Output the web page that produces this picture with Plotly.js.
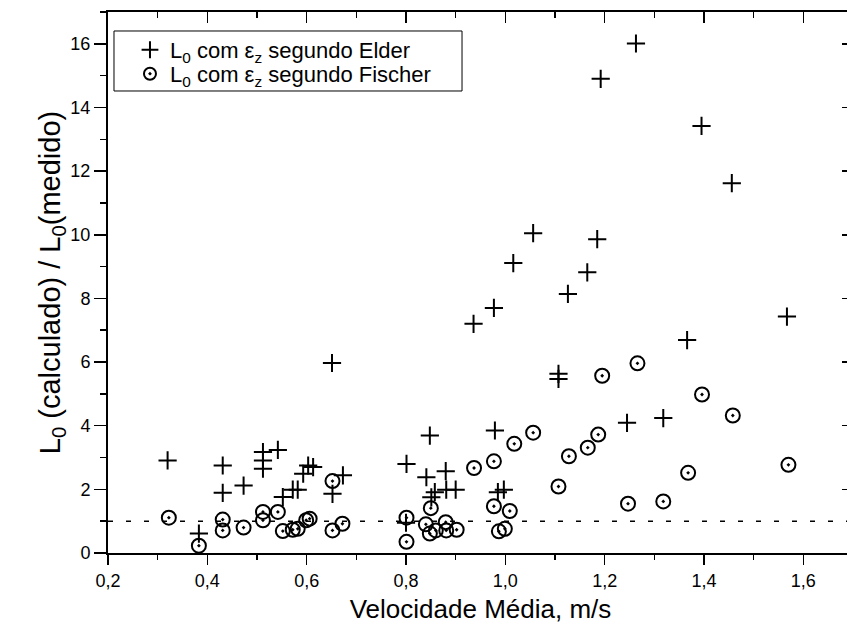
<!DOCTYPE html>
<html>
<head>
<meta charset="utf-8">
<script src="https://cdn.plot.ly/plotly-3.0.1.min.js"></script>
<style>
  html, body { margin: 0; padding: 0; overflow: hidden; background: #fff; }
  #grafico { width: 860px; height: 628px; }
</style>
</head>
<body>
<div id="grafico"></div>
<script>
// Velocidade média (m/s) e razão L0(calculado)/L0(medido) — εz segundo Elder
const velElder = [0.32, 0.383, 0.431, 0.431, 0.473, 0.512, 0.512, 0.512, 0.542, 0.552,
  0.572, 0.582, 0.593, 0.603, 0.613, 0.652, 0.651, 0.673, 0.801, 0.80,
  0.841, 0.848, 0.851, 0.858, 0.880, 0.881, 0.90, 0.936, 0.977, 0.979,
  0.985, 0.997, 1.016, 1.056, 1.107, 1.107, 1.126, 1.165, 1.185, 1.192,
  1.245, 1.263, 1.318, 1.366, 1.395, 1.456, 1.567];
const razaoElder = [2.91, 0.61, 2.75, 1.89, 2.12, 3.17, 2.91, 2.65, 3.24, 1.76,
  1.99, 1.99, 2.49, 2.75, 2.70, 1.86, 5.97, 2.44, 2.80, 0.95,
  2.38, 3.69, 1.75, 1.91, 2.57, 1.99, 1.99, 7.20, 7.70, 3.85,
  1.91, 1.99, 9.11, 10.05, 5.63, 5.47, 8.14, 8.82, 9.86, 14.90,
  4.09, 16.01, 4.24, 6.69, 13.42, 11.62, 7.43];

// εz segundo Fischer
const velFischer = [0.3225, 0.383, 0.431, 0.431, 0.473, 0.512, 0.512, 0.542, 0.552, 0.572,
  0.582, 0.599, 0.606, 0.652, 0.652, 0.672, 0.801, 0.801, 0.84, 0.848,
  0.850, 0.860, 0.880, 0.881, 0.902, 0.937, 0.977, 0.977, 0.987, 0.999,
  1.009, 1.018, 1.056, 1.107, 1.128, 1.166, 1.187, 1.195, 1.247, 1.266,
  1.318, 1.368, 1.396, 1.458, 1.570];
const razaoFischer = [1.11, 0.23, 1.05, 0.71, 0.80, 1.29, 1.03, 1.29, 0.69, 0.73,
  0.76, 1.03, 1.08, 2.26, 0.71, 0.92, 1.11, 0.35, 0.90, 0.61,
  1.41, 0.71, 0.97, 0.71, 0.73, 2.67, 2.88, 1.47, 0.68, 0.76,
  1.32, 3.43, 3.78, 2.09, 3.04, 3.31, 3.72, 5.57, 1.55, 5.96,
  1.62, 2.52, 4.98, 4.32, 2.77];

// Razão ideal (calculado = medido)
const razaoIdeal = 1;

const xRange = [0.2, 1.7];
const yRange = [0, 17];

const fonte = 'Liberation Sans, Arial, sans-serif';
const fonteLegenda = { family: fonte, size: 22, color: '#000' };

const traces = [
  {
    x: velElder, y: razaoElder, type: 'scatter', mode: 'markers',
    name: 'L<sub>0</sub> com ε<sub>z</sub> segundo Elder',
    legend: 'legend',
    marker: { symbol: 'cross-thin-open', size: 13, color: '#000', line: { width: 2, color: '#000' } },
    hoverinfo: 'x+y'
  },
  {
    x: velFischer, y: razaoFischer, type: 'scatter', mode: 'markers',
    name: 'L<sub>0</sub> com ε<sub>z</sub> segundo Fischer',
    legend: 'legend2',
    marker: { symbol: 'circle-open-dot', size: 14, color: '#000', line: { width: 2, color: '#000' } },
    hoverinfo: 'x+y'
  },
  // eixos espelhados (topo e direita) com marcas para dentro
  { x: [], y: [], xaxis: 'x2', yaxis: 'y2', type: 'scatter', mode: 'markers', showlegend: false, hoverinfo: 'skip' }
];

const eixoComum = {
  showgrid: false, zeroline: false, showline: true,
  linecolor: '#000', linewidth: 2, tickcolor: '#000', tickwidth: 1.5
};

const legendaBase = {
  xanchor: 'left', yanchor: 'top', borderwidth: 0,
  bgcolor: 'rgba(0,0,0,0)', font: fonteLegenda, itemsizing: 'constant'
};

const layout = {
  width: 860, height: 628,
  margin: { l: 108, r: 7, t: 12, b: 75 },
  paper_bgcolor: '#fff', plot_bgcolor: '#fff',
  separators: ',.',
  font: { family: fonte, color: '#000', size: 18 },
  showlegend: true,
  legend: Object.assign({}, legendaBase, { x: 0.0295, y: 0.9687 }),
  legend2: Object.assign({}, legendaBase, { x: 0.0295, y: 0.9244 }),
  xaxis: Object.assign({}, eixoComum, {
    range: xRange, dtick: 0.2, tick0: 0.2, tickformat: '.1f',
    ticks: 'outside', ticklen: 10,
    minor: { dtick: 0.1, ticks: 'outside', ticklen: 5, tickcolor: '#000', tickwidth: 1.5 },
    tickfont: { family: fonte, size: 18, color: '#000' },
    title: { text: 'Velocidade Média, m/s', font: { family: fonte, size: 26, color: '#000' }, standoff: 10 }
  }),
  yaxis: Object.assign({}, eixoComum, {
    range: yRange, dtick: 2, tick0: 0,
    ticks: 'outside', ticklen: 12,
    minor: { dtick: 1, ticks: 'outside', ticklen: 6, tickcolor: '#000', tickwidth: 1.5 },
    tickfont: { family: fonte, size: 18, color: '#000' },
    title: { text: 'L<sub>0</sub> (calculado) / L<sub>0</sub>(medido)', font: { family: fonte, size: 29, color: '#000' }, standoff: 0 }
  }),
  xaxis2: Object.assign({}, eixoComum, {
    overlaying: 'x', side: 'top', anchor: 'y', matches: 'x',
    range: xRange, dtick: 0.2, tick0: 0.2, showticklabels: false,
    ticks: 'inside', ticklen: 11,
    minor: { dtick: 0.1, ticks: 'inside', ticklen: 6, tickcolor: '#000', tickwidth: 1.5 }
  }),
  yaxis2: Object.assign({}, eixoComum, {
    overlaying: 'y', side: 'right', anchor: 'x', matches: 'y',
    range: yRange, dtick: 2, tick0: 0, showticklabels: false,
    ticks: 'inside', ticklen: 11,
    minor: { dtick: 1, ticks: 'inside', ticklen: 6, tickcolor: '#000', tickwidth: 1.5 }
  }),
  shapes: [
    // linha de referência: calculado = medido
    {
      type: 'line', xref: 'paper', yref: 'y', x0: 0, x1: 1, y0: razaoIdeal, y1: razaoIdeal,
      line: { color: '#000', width: 1.5, dash: '5px,13px' }
    },
    // moldura da legenda
    {
      type: 'rect', xref: 'paper', yref: 'paper', layer: 'below',
      x0: 0.00805, x1: 0.4752, y0: 0.8540, y1: 0.9649,
      line: { color: '#000', width: 1 }, fillcolor: '#fff'
    }
  ]
};

Plotly.newPlot('grafico', traces, layout, { displayModeBar: false, staticPlot: true });
</script>
</body>
</html>
